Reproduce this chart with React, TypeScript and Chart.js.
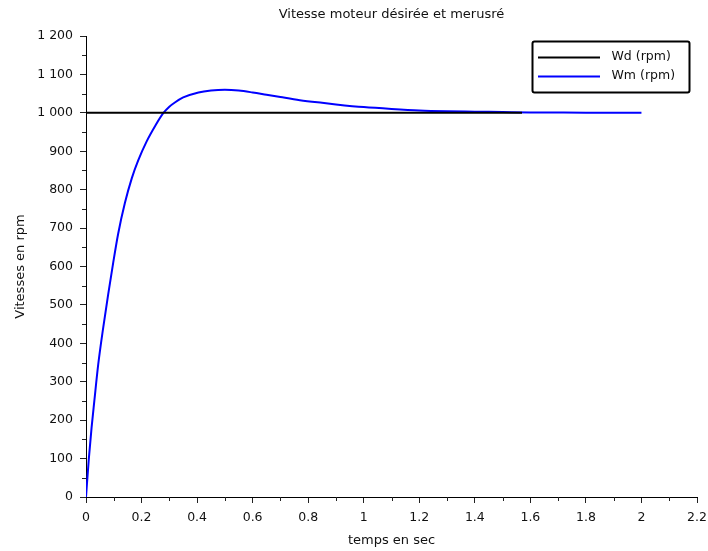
import React, { useEffect, useRef } from "react";
import { Chart, registerables } from "chart.js";

Chart.register(...registerables);

const chartTitle = "Vitesse moteur désirée et merusré";
const xAxisTitle = "temps en sec";
const yAxisTitle = "Vitesses en rpm";

const wdLabel = "Wd (rpm)";
const wmLabel = "Wm (rpm)";

const wdTimes = [0, 1.57];
const wdValues = [1000, 1000];

const wmTimes = [
  0, 0.01, 0.02, 0.03, 0.044, 0.062, 0.08, 0.098, 0.116, 0.14, 0.165, 0.188,
  0.218, 0.25, 0.278, 0.3, 0.32, 0.35, 0.405, 0.45, 0.5, 0.55, 0.6, 0.65, 0.7,
  0.77, 0.85, 0.9, 1.0, 1.1, 1.2, 1.3, 1.4, 1.5, 1.6, 1.8, 2.0,
];
const wmValues = [
  0, 98, 180, 250, 345, 441, 528, 610, 686, 765, 830, 876, 925, 967, 999,
  1016, 1027, 1040, 1053, 1058, 1060, 1058, 1053, 1047, 1041, 1033, 1026, 1022,
  1015, 1010, 1006, 1004, 1003, 1002, 1001, 1000.5, 1000,
];

const xMin = 0;
const xMax = 2.2;
const xStep = 0.2;
const yMin = 0;
const yMax = 1200;
const yStep = 100;

const FONT = "'DejaVu Sans', sans-serif";

function formatThousands(v: number): string {
  return String(Math.round(v)).replace(/\B(?=(\d{3})+(?!\d))/g, " ");
}

const minorTicksAndLegend = {
  id: "minorTicksAndLegend",
  afterDraw(chart: any) {
    const ctx = chart.ctx as CanvasRenderingContext2D;
    const xs = chart.scales.x;
    const ys = chart.scales.y;
    const area = chart.chartArea;
    ctx.save();
    // minor ticks
    ctx.strokeStyle = "#222";
    ctx.lineWidth = 1;
    ctx.beginPath();
    for (let v = yMin + yStep / 2; v < yMax; v += yStep) {
      const py = Math.round(ys.getPixelForValue(v)) + 0.5;
      ctx.moveTo(area.left - 4, py);
      ctx.lineTo(area.left, py);
    }
    for (let i = 0; i < Math.round((xMax - xMin) / xStep); i++) {
      const v = xMin + xStep * i + xStep / 2;
      const px = Math.round(xs.getPixelForValue(v)) + 0.5;
      ctx.moveTo(px, area.bottom);
      ctx.lineTo(px, area.bottom + 4);
    }
    ctx.stroke();

    // legend box
    const bx = 532.5;
    const by = 41.5;
    const bw = 157;
    const bh = 51;
    ctx.fillStyle = "#fff";
    ctx.strokeStyle = "#000";
    ctx.lineWidth = 2;
    ctx.beginPath();
    const r = 2;
    ctx.moveTo(bx + r, by);
    ctx.lineTo(bx + bw - r, by);
    ctx.arcTo(bx + bw, by, bx + bw, by + r, r);
    ctx.lineTo(bx + bw, by + bh - r);
    ctx.arcTo(bx + bw, by + bh, bx + bw - r, by + bh, r);
    ctx.lineTo(bx + r, by + bh);
    ctx.arcTo(bx, by + bh, bx, by + bh - r, r);
    ctx.lineTo(bx, by + r);
    ctx.arcTo(bx, by, bx + r, by, r);
    ctx.closePath();
    ctx.fill();
    ctx.stroke();

    const items = chart.data.datasets.map((d: any) => ({
      label: d.label,
      color: d.borderColor,
    }));
    const rowY = [57.5, 76.5];
    ctx.font = `12.5px ${FONT}`;
    ctx.textBaseline = "middle";
    ctx.textAlign = "left";
    items.forEach((it: any, i: number) => {
      ctx.strokeStyle = it.color;
      ctx.lineWidth = 2;
      ctx.beginPath();
      ctx.moveTo(538, rowY[i]);
      ctx.lineTo(600, rowY[i]);
      ctx.stroke();
      ctx.fillStyle = "#111";
      ctx.fillText(it.label, 611.5, rowY[i] - 1);
    });
    ctx.restore();
  },
};

export default function App() {
  const canvasRef = useRef<HTMLCanvasElement | null>(null);

  useEffect(() => {
    document.body.style.margin = "0";
    const canvas = canvasRef.current;
    if (!canvas) return;
    const wdData = wdTimes.map((t, i) => ({ x: t, y: wdValues[i] }));
    const wmData = wmTimes.map((t, i) => ({ x: t, y: wmValues[i] }));

    const chart = new Chart(canvas, {
      type: "line",
      data: {
        datasets: [
          {
            label: wdLabel,
            data: wdData,
            borderColor: "#000000",
            backgroundColor: "#000000",
            borderWidth: 2,
            pointRadius: 0,
            tension: 0,
          },
          {
            label: wmLabel,
            data: wmData,
            borderColor: "#0000ff",
            backgroundColor: "#0000ff",
            borderWidth: 2,
            pointRadius: 0,
            cubicInterpolationMode: "monotone",
          },
        ],
      },
      options: {
        animation: false,
        responsive: false,
        maintainAspectRatio: false,
        layout: { padding: { left: 0, right: 0, top: 0, bottom: 0 } },
        plugins: {
          legend: { display: false },
          tooltip: { enabled: false },
          title: {
            display: true,
            text: chartTitle,
            fullSize: false,
            color: "#111",
            font: { family: FONT, size: 13, weight: "normal", lineHeight: 1.2 },
            padding: { top: 7.2, bottom: 13.2 },
          },
        },
        scales: {
          x: {
            type: "linear",
            min: xMin,
            max: xMax,
            afterFit: (s: any) => {
              s.height = 54;
              s.paddingRight = 11;
            },
            ticks: {
              stepSize: xStep,
              color: "#111",
              padding: 7,
              maxRotation: 0,
              autoSkip: false,
              font: { family: FONT, size: 12.5 },
              callback: (v: any) => String(Math.round(Number(v) * 10) / 10),
            },
            grid: {
              drawOnChartArea: false,
              tickLength: 6,
              tickColor: "#222",
              tickWidth: 1,
            },
            border: { color: "#000", width: 1 },
            title: {
              display: true,
              text: xAxisTitle,
              color: "#111",
              font: { family: FONT, size: 13, lineHeight: 1.2 },
              padding: { top: 0, bottom: 2.2 },
            },
          },
          y: {
            type: "linear",
            min: yMin,
            max: yMax,
            afterFit: (s: any) => {
              s.width = 86;
            },
            ticks: {
              stepSize: yStep,
              color: "#111",
              padding: 7,
              font: { family: FONT, size: 12.5 },
              callback: (v: any) => formatThousands(Number(v)),
            },
            grid: {
              drawOnChartArea: false,
              tickLength: 6,
              tickColor: "#222",
              tickWidth: 1,
            },
            border: { color: "#000", width: 1 },
            title: {
              display: true,
              text: yAxisTitle,
              color: "#111",
              font: { family: FONT, size: 13, lineHeight: 1.2 },
              padding: { top: 12.7, bottom: 0 },
            },
          },
        },
      },
      plugins: [minorTicksAndLegend],
    });
    return () => chart.destroy();
  }, []);

  return (
    <div style={{ width: 708, height: 551, background: "#fff" }}>
      <canvas ref={canvasRef} width={708} height={551} />
    </div>
  );
}
